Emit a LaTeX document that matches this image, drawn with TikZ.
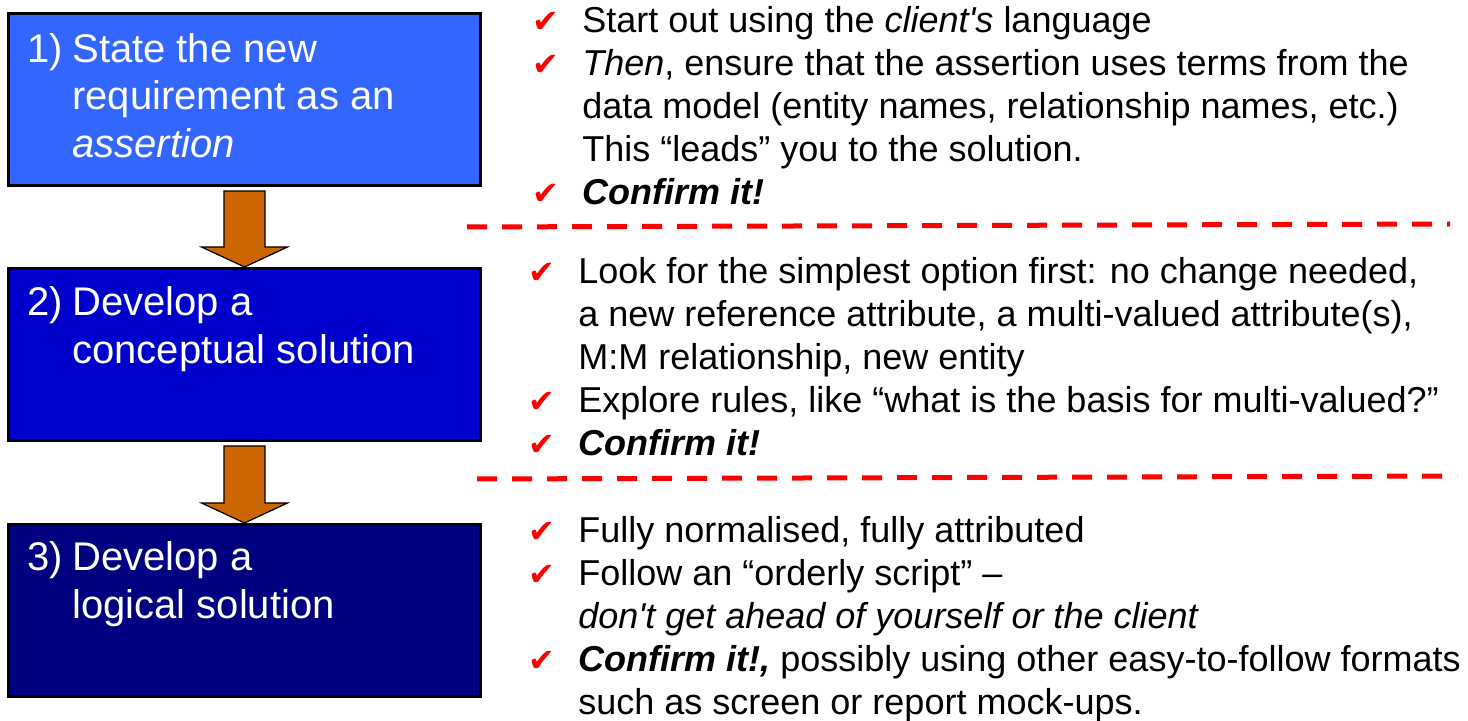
\documentclass[tikz,border=0pt]{standalone}
\usepackage{fontspec}
\setmainfont{Liberation Sans}
\newfontfamily\checkfont{DejaVu Sans}
\usetikzlibrary{calc, positioning}
\definecolor{StepOne}{HTML}{3366FF}
\definecolor{StepTwo}{HTML}{0000CC}
\definecolor{StepThree}{HTML}{000080}
\definecolor{ArrowBrown}{HTML}{CC6600}
\newcommand{\chk}{\makebox[25pt][l]{\checkfont\fontsize{16}{16}\selectfont\color{red}✔}}
\newcommand{\flowarrow}[2]{%
    \path[flow-arrow] ($(#1.south)+(-20.5,4)$) -- ($(#1.south)+(20.5,4)$)
        -- ($(#2.north)+(20.5,-20)$) -- ($(#2.north)+(43,-20)$)
        -- (#2.north)
        -- ($(#2.north)+(-43,-20)$) -- ($(#2.north)+(-20.5,-20)$) -- cycle;}

\begin{document}
\begin{tikzpicture}[
    x=0.5pt, y=-0.5pt,
    % --- Styles ---
    % Style for the three step boxes on the left
    step-box/.style={
        draw=black, line width=1.5pt,
        minimum width=236pt, minimum height=86pt,
        anchor=north west, inner sep=0pt
    },
    % Style for the white text inside the step boxes
    step-text/.style={
        text=white, anchor=north west, inner sep=0pt,
        font=\fontsize{20}{23.75}\selectfont
    },
    % Style for the check lists on the right
    list-text/.style={
        anchor=north west, inner sep=0pt,
        font=\fontsize{18}{21.5}\selectfont
    },
    % Style for the block arrows between the boxes
    flow-arrow/.style={
        fill=ArrowBrown, draw=black, line width=0.6pt
    },
    % Style for the red separator lines
    sep-line/.style={
        red, line width=2.5pt, dash pattern=on 10pt off 7.5pt
    }
]
\useasboundingbox (0,0) rectangle (1468,721);

% --- Step boxes ---
\node[step-box, fill=StepOne] (step1) at (7,12) {};
\node[step-box, fill=StepTwo] (step2) at (7,267) {};
\node[step-box, fill=StepThree] (step3) at (7,523) {};

\node[step-text] (step1-text) at (27,28.75) {%
    \begin{tabular}{@{}p{22.5pt}@{}l@{}}
    1) & State the new \\
       & requirement as an \\
       & \textit{assertion}
    \end{tabular}};
\node[step-text] (step2-text) at (27,282) {%
    \begin{tabular}{@{}p{22.5pt}@{}l@{}}
    2) & Develop a \\
       & conceptual solution
    \end{tabular}};
\node[step-text] (step3-text) at (27,537) {%
    \begin{tabular}{@{}p{22.5pt}@{}l@{}}
    3) & Develop a \\
       & logical solution
    \end{tabular}};

% --- Block arrows ---
\flowarrow{step1}{step2}
\flowarrow{step2}{step3}

% --- Check list 1 ---
\node[list-text] (list1) at (532,2) {%
    \begin{tabular}{@{}l@{}l@{}}
    \chk & Start out using the \textit{client\textquotesingle s} language \\
    \chk & \textit{Then}, ensure that the assertion uses terms from the \\
         & data model (entity names, relationship names, etc.) \\
         & This “leads” you to the solution. \\
    \chk & \textbf{\textit{Confirm it!}}
    \end{tabular}};

\draw[sep-line] (467,227) -- (1450,224);

% --- Check list 2 ---
\node[list-text] (list2) at (528,253) {%
    \begin{tabular}{@{}l@{}l@{}}
    \chk & Look for the simplest option first: no change needed, \\
         & a new reference attribute, a multi-valued attribute(s), \\
         & M:M relationship, new entity \\
    \chk & Explore rules, like “what is the basis for multi-valued?” \\
    \chk & \textbf{\textit{Confirm it!}}
    \end{tabular}};

\draw[sep-line] (477,479) -- (1457,476);

% --- Check list 3 ---
\node[list-text] (list3) at (528,512) {%
    \begin{tabular}{@{}l@{}l@{}}
    \chk & Fully normalised, fully attributed \\
    \chk & Follow an “orderly script” – \\
         & \textit{don\textquotesingle t get ahead of yourself or the client} \\
    \chk & \textbf{\textit{Confirm it!,}} possibly using other easy-to-follow formats \\
         & such as screen or report mock-ups.
    \end{tabular}};

\end{tikzpicture}
\end{document}
